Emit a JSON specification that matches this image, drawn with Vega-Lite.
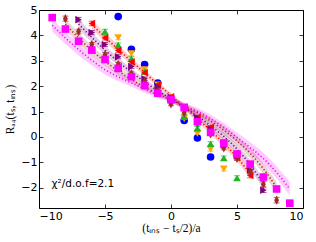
{
  "$schema": "https://vega.github.io/schema/vega-lite/v6.json",
  "width": 264,
  "height": 198,
  "autosize": "none",
  "padding": {"left": 39, "top": 10, "right": 13, "bottom": 34},
  "background": "white",
  "config": {
    "view": {"stroke": "black", "strokeWidth": 1},
    "axis": {"grid": false, "domain": false, "tickColor": "black", "tickSize": -4, "tickWidth": 0.8,
      "labelFont": "DejaVu Sans", "labelFontSize": 11, "labelColor": "black", "labelPadding": 6,
      "titleFont": "Liberation Serif", "titleFontSize": 11.5, "titleFontWeight": "normal", "titleColor": "black"}
  },
  "datasets": {
    "bands": [
      {"series": "red", "x": -6, "y": 4.43, "lo": 4.24, "hi": 4.62},
      {"series": "red", "x": -5, "y": 3.93, "lo": 3.76, "hi": 4.10},
      {"series": "red", "x": -4, "y": 3.45, "lo": 3.29, "hi": 3.61},
      {"series": "red", "x": -3, "y": 2.98, "lo": 2.84, "hi": 3.12},
      {"series": "red", "x": -2, "y": 2.53, "lo": 2.40, "hi": 2.66},
      {"series": "red", "x": -1, "y": 2.08, "lo": 1.97, "hi": 2.19},
      {"series": "red", "x": 0, "y": 1.63, "lo": 1.53, "hi": 1.73},
      {"series": "red", "x": 1, "y": 1.18, "lo": 1.07, "hi": 1.29},
      {"series": "red", "x": 2, "y": 0.72, "lo": 0.59, "hi": 0.85},
      {"series": "red", "x": 3, "y": 0.25, "lo": 0.11, "hi": 0.39},
      {"series": "red", "x": 4, "y": -0.25, "lo": -0.41, "hi": -0.09},
      {"series": "red", "x": 5, "y": -0.80, "lo": -0.97, "hi": -0.63},
      {"series": "red", "x": 6, "y": -1.45, "lo": -1.64, "hi": -1.26},
      {"series": "purple", "x": -7, "y": 4.45, "lo": 4.25, "hi": 4.65},
      {"series": "purple", "x": -6, "y": 3.92, "lo": 3.73, "hi": 4.11},
      {"series": "purple", "x": -5, "y": 3.42, "lo": 3.25, "hi": 3.59},
      {"series": "purple", "x": -4, "y": 2.97, "lo": 2.81, "hi": 3.13},
      {"series": "purple", "x": -3, "y": 2.55, "lo": 2.41, "hi": 2.69},
      {"series": "purple", "x": -2, "y": 2.17, "lo": 2.04, "hi": 2.30},
      {"series": "purple", "x": -1, "y": 1.82, "lo": 1.71, "hi": 1.93},
      {"series": "purple", "x": 0, "y": 1.50, "lo": 1.40, "hi": 1.60},
      {"series": "purple", "x": 1, "y": 1.17, "lo": 1.06, "hi": 1.28},
      {"series": "purple", "x": 2, "y": 0.82, "lo": 0.69, "hi": 0.95},
      {"series": "purple", "x": 3, "y": 0.44, "lo": 0.30, "hi": 0.58},
      {"series": "purple", "x": 4, "y": 0.02, "lo": -0.14, "hi": 0.18},
      {"series": "purple", "x": 5, "y": -0.48, "lo": -0.65, "hi": -0.31},
      {"series": "purple", "x": 6, "y": -1.10, "lo": -1.29, "hi": -0.91},
      {"series": "purple", "x": 7, "y": -1.85, "lo": -2.05, "hi": -1.65},
      {"series": "brown", "x": -8, "y": 4.45, "lo": 4.23, "hi": 4.67},
      {"series": "brown", "x": -7, "y": 3.90, "lo": 3.70, "hi": 4.10},
      {"series": "brown", "x": -6, "y": 3.40, "lo": 3.21, "hi": 3.59},
      {"series": "brown", "x": -5, "y": 2.98, "lo": 2.81, "hi": 3.15},
      {"series": "brown", "x": -4, "y": 2.60, "lo": 2.44, "hi": 2.76},
      {"series": "brown", "x": -3, "y": 2.26, "lo": 2.12, "hi": 2.40},
      {"series": "brown", "x": -2, "y": 1.96, "lo": 1.83, "hi": 2.09},
      {"series": "brown", "x": -1, "y": 1.70, "lo": 1.59, "hi": 1.81},
      {"series": "brown", "x": 0, "y": 1.47, "lo": 1.37, "hi": 1.57},
      {"series": "brown", "x": 1, "y": 1.22, "lo": 1.11, "hi": 1.33},
      {"series": "brown", "x": 2, "y": 0.95, "lo": 0.82, "hi": 1.08},
      {"series": "brown", "x": 3, "y": 0.63, "lo": 0.49, "hi": 0.77},
      {"series": "brown", "x": 4, "y": 0.27, "lo": 0.11, "hi": 0.43},
      {"series": "brown", "x": 5, "y": -0.15, "lo": -0.32, "hi": 0.02},
      {"series": "brown", "x": 6, "y": -0.65, "lo": -0.84, "hi": -0.46},
      {"series": "brown", "x": 7, "y": -1.25, "lo": -1.45, "hi": -1.05},
      {"series": "brown", "x": 8, "y": -2.00, "lo": -2.22, "hi": -1.78},
      {"series": "magenta", "x": -9, "y": 4.40, "lo": 4.14, "hi": 4.66},
      {"series": "magenta", "x": -8, "y": 3.90, "lo": 3.66, "hi": 4.14},
      {"series": "magenta", "x": -7, "y": 3.44, "lo": 3.21, "hi": 3.67},
      {"series": "magenta", "x": -6, "y": 3.02, "lo": 2.81, "hi": 3.23},
      {"series": "magenta", "x": -5, "y": 2.65, "lo": 2.46, "hi": 2.84},
      {"series": "magenta", "x": -4, "y": 2.37, "lo": 2.20, "hi": 2.54},
      {"series": "magenta", "x": -3, "y": 2.13, "lo": 1.98, "hi": 2.28},
      {"series": "magenta", "x": -2, "y": 1.88, "lo": 1.74, "hi": 2.02},
      {"series": "magenta", "x": -1, "y": 1.66, "lo": 1.54, "hi": 1.78},
      {"series": "magenta", "x": 0, "y": 1.45, "lo": 1.35, "hi": 1.55},
      {"series": "magenta", "x": 1, "y": 1.23, "lo": 1.11, "hi": 1.35},
      {"series": "magenta", "x": 2, "y": 1.00, "lo": 0.86, "hi": 1.14},
      {"series": "magenta", "x": 3, "y": 0.72, "lo": 0.57, "hi": 0.87},
      {"series": "magenta", "x": 4, "y": 0.38, "lo": 0.21, "hi": 0.55},
      {"series": "magenta", "x": 5, "y": -0.02, "lo": -0.21, "hi": 0.17},
      {"series": "magenta", "x": 6, "y": -0.42, "lo": -0.63, "hi": -0.21},
      {"series": "magenta", "x": 7, "y": -0.85, "lo": -1.08, "hi": -0.62},
      {"series": "magenta", "x": 8, "y": -1.40, "lo": -1.64, "hi": -1.16},
      {"series": "magenta", "x": 9, "y": -2.05, "lo": -2.31, "hi": -1.79}
    ],
    "points": [
      {"series": "blue", "x": -4, "y": 4.74, "err": 0.08},
      {"series": "blue", "x": -3, "y": 3.45, "err": 0.08},
      {"series": "blue", "x": -2, "y": 2.85, "err": 0.07},
      {"series": "blue", "x": -1, "y": 2.12, "err": 0.07},
      {"series": "blue", "x": 0, "y": 1.45, "err": 0.07},
      {"series": "blue", "x": 1, "y": 0.65, "err": 0.07},
      {"series": "blue", "x": 2, "y": -0.04, "err": 0.07},
      {"series": "blue", "x": 3, "y": -0.79, "err": 0.08},
      {"series": "orange", "x": -4, "y": 3.91, "err": 0.08},
      {"series": "orange", "x": -3, "y": 3.28, "err": 0.08},
      {"series": "orange", "x": -2, "y": 2.65, "err": 0.07},
      {"series": "orange", "x": -1, "y": 2.05, "err": 0.07},
      {"series": "orange", "x": 0, "y": 1.45, "err": 0.07},
      {"series": "orange", "x": 1, "y": 0.72, "err": 0.07},
      {"series": "orange", "x": 2, "y": 0.14, "err": 0.07},
      {"series": "orange", "x": 3, "y": -0.48, "err": 0.08},
      {"series": "orange", "x": 4, "y": -1.26, "err": 0.08},
      {"series": "green", "x": -5, "y": 4.15, "err": 0.09},
      {"series": "green", "x": -4, "y": 3.62, "err": 0.08},
      {"series": "green", "x": -3, "y": 3.08, "err": 0.08},
      {"series": "green", "x": -2, "y": 2.58, "err": 0.07},
      {"series": "green", "x": -1, "y": 2.05, "err": 0.07},
      {"series": "green", "x": 0, "y": 1.45, "err": 0.07},
      {"series": "green", "x": 1, "y": 0.80, "err": 0.07},
      {"series": "green", "x": 2, "y": 0.34, "err": 0.07},
      {"series": "green", "x": 3, "y": -0.27, "err": 0.08},
      {"series": "green", "x": 4, "y": -0.83, "err": 0.08},
      {"series": "green", "x": 5, "y": -1.62, "err": 0.09},
      {"series": "red", "x": -6, "y": 4.47, "err": 0.09},
      {"series": "red", "x": -5, "y": 3.90, "err": 0.08},
      {"series": "red", "x": -4, "y": 3.40, "err": 0.08},
      {"series": "red", "x": -3, "y": 2.96, "err": 0.07},
      {"series": "red", "x": -2, "y": 2.53, "err": 0.07},
      {"series": "red", "x": -1, "y": 2.06, "err": 0.07},
      {"series": "red", "x": 0, "y": 1.58, "err": 0.07},
      {"series": "red", "x": 1, "y": 1.18, "err": 0.07},
      {"series": "red", "x": 2, "y": 0.77, "err": 0.07},
      {"series": "red", "x": 3, "y": 0.38, "err": 0.07},
      {"series": "red", "x": 4, "y": -0.24, "err": 0.08},
      {"series": "red", "x": 5, "y": -0.79, "err": 0.08},
      {"series": "red", "x": 6, "y": -1.52, "err": 0.09},
      {"series": "purple", "x": -7, "y": 4.62, "err": 0.09},
      {"series": "purple", "x": -6, "y": 4.11, "err": 0.08},
      {"series": "purple", "x": -5, "y": 3.64, "err": 0.08},
      {"series": "purple", "x": -4, "y": 3.16, "err": 0.08},
      {"series": "purple", "x": -3, "y": 2.77, "err": 0.07},
      {"series": "purple", "x": -2, "y": 2.29, "err": 0.07},
      {"series": "purple", "x": -1, "y": 1.98, "err": 0.07},
      {"series": "purple", "x": 0, "y": 1.55, "err": 0.07},
      {"series": "purple", "x": 1, "y": 1.15, "err": 0.07},
      {"series": "purple", "x": 2, "y": 0.75, "err": 0.07},
      {"series": "purple", "x": 3, "y": 0.30, "err": 0.07},
      {"series": "purple", "x": 4, "y": -0.32, "err": 0.08},
      {"series": "purple", "x": 5, "y": -0.75, "err": 0.08},
      {"series": "purple", "x": 6, "y": -1.30, "err": 0.08},
      {"series": "purple", "x": 7, "y": -2.10, "err": 0.09},
      {"series": "brown", "x": -8, "y": 4.66, "err": 0.1},
      {"series": "brown", "x": -7, "y": 4.15, "err": 0.09},
      {"series": "brown", "x": -6, "y": 3.64, "err": 0.08},
      {"series": "brown", "x": -5, "y": 3.24, "err": 0.08},
      {"series": "brown", "x": -4, "y": 2.85, "err": 0.08},
      {"series": "brown", "x": -3, "y": 2.49, "err": 0.07},
      {"series": "brown", "x": -2, "y": 2.17, "err": 0.07},
      {"series": "brown", "x": -1, "y": 1.82, "err": 0.07},
      {"series": "brown", "x": 0, "y": 1.30, "err": 0.07},
      {"series": "brown", "x": 1, "y": 0.95, "err": 0.07},
      {"series": "brown", "x": 2, "y": 0.55, "err": 0.07},
      {"series": "brown", "x": 3, "y": 0.12, "err": 0.07},
      {"series": "brown", "x": 4, "y": -0.43, "err": 0.08},
      {"series": "brown", "x": 5, "y": -0.85, "err": 0.08},
      {"series": "brown", "x": 6, "y": -1.38, "err": 0.09},
      {"series": "brown", "x": 7, "y": -1.86, "err": 0.1},
      {"series": "brown", "x": 8, "y": -2.49, "err": 0.11},
      {"series": "magenta", "x": -9, "y": 4.70, "err": 0.11},
      {"series": "magenta", "x": -8, "y": 4.25, "err": 0.1},
      {"series": "magenta", "x": -7, "y": 3.77, "err": 0.09},
      {"series": "magenta", "x": -6, "y": 3.42, "err": 0.09},
      {"series": "magenta", "x": -5, "y": 3.05, "err": 0.08},
      {"series": "magenta", "x": -4, "y": 2.70, "err": 0.08},
      {"series": "magenta", "x": -3, "y": 2.37, "err": 0.08},
      {"series": "magenta", "x": -2, "y": 2.02, "err": 0.07},
      {"series": "magenta", "x": -1, "y": 1.72, "err": 0.07},
      {"series": "magenta", "x": 0, "y": 1.48, "err": 0.07},
      {"series": "magenta", "x": 1, "y": 1.16, "err": 0.07},
      {"series": "magenta", "x": 2, "y": 0.60, "err": 0.07},
      {"series": "magenta", "x": 3, "y": 0.18, "err": 0.08},
      {"series": "magenta", "x": 4, "y": -0.24, "err": 0.08},
      {"series": "magenta", "x": 5, "y": -0.67, "err": 0.08},
      {"series": "magenta", "x": 6, "y": -1.07, "err": 0.09},
      {"series": "magenta", "x": 7, "y": -1.58, "err": 0.09},
      {"series": "magenta", "x": 8, "y": -2.05, "err": 0.1},
      {"series": "magenta", "x": 9, "y": -2.61, "err": 0.11}
    ],
    "notes": [
      {"x": -9.05, "y": -1.86, "label": "χ²/d.o.f=2.1"}
    ]
  },
  "resolve": {"axis": {"x": "independent", "y": "independent"}},
  "layer": [
    {
      "data": {"name": "bands"},
      "mark": {"type": "area", "opacity": 0.2, "interpolate": "monotone"},
      "encoding": {
        "x": {"field": "x", "type": "quantitative", "scale": {"domain": [-10, 10], "nice": false},
          "axis": {"orient": "bottom", "values": [-10, -5, 0, 5, 10], "title": "(tᵢₙₛ − tₛ/2)/a", "titlePadding": 1}},
        "y": {"field": "lo", "type": "quantitative", "scale": {"domain": [-2.8, 5], "nice": false},
          "axis": {"orient": "left", "values": [-2, -1, 0, 1, 2, 3, 4, 5], "title": "Rₐ₄(tₛ, tᵢₙₛ)", "titlePadding": 5}},
        "y2": {"field": "hi"},
        "color": {"field": "series", "type": "nominal", "legend": null,
          "scale": {"domain": ["blue", "orange", "green", "red", "purple", "brown", "magenta"],
            "range": ["#0000ff", "#ffa500", "#22b422", "#ff0000", "#800080", "#a52a2a", "#ff00ff"]}},
        "detail": {"field": "series"}
      }
    },
    {
      "data": {"name": "bands"},
      "mark": {"type": "line", "strokeWidth": 1.6, "strokeDash": [1.2, 2.2], "interpolate": "monotone"},
      "encoding": {
        "x": {"field": "x", "type": "quantitative",
          "axis": {"orient": "top", "values": [-10, -5, 0, 5, 10], "labels": false, "title": null}},
        "y": {"field": "y", "type": "quantitative",
          "axis": {"orient": "right", "values": [-2, -1, 0, 1, 2, 3, 4, 5], "labels": false, "title": null}},
        "color": {"field": "series", "type": "nominal", "legend": null}
      }
    },
    {
      "data": {"name": "points"},
      "mark": {"type": "errorbar", "ticks": {"size": 6}, "thickness": 1},
      "encoding": {
        "x": {"field": "x", "type": "quantitative", "axis": null},
        "y": {"field": "y", "type": "quantitative", "axis": null},
        "yError": {"field": "err"},
        "color": {"field": "series", "type": "nominal", "legend": null}
      }
    },
    {
      "data": {"name": "points"},
      "mark": {"type": "point", "filled": true, "opacity": 1, "size": 58},
      "encoding": {
        "x": {"field": "x", "type": "quantitative", "axis": null},
        "y": {"field": "y", "type": "quantitative", "axis": null},
        "color": {"field": "series", "type": "nominal", "legend": null},
        "shape": {"field": "series", "type": "nominal", "legend": null,
          "scale": {"domain": ["blue", "orange", "green", "red", "purple", "brown", "magenta"],
            "range": ["circle", "triangle-down", "triangle-up", "triangle-left", "triangle-right", "M0,-1.2L0.65,0L0,1.2L-0.65,0Z", "square"]}}
      }
    },
    {
      "data": {"name": "notes"},
      "mark": {"type": "text", "align": "left", "baseline": "middle", "font": "DejaVu Sans", "fontSize": 10.5, "color": "black"},
      "encoding": {
        "x": {"field": "x", "type": "quantitative", "axis": null},
        "y": {"field": "y", "type": "quantitative", "axis": null},
        "text": {"field": "label"}
      }
    }
  ]
}
